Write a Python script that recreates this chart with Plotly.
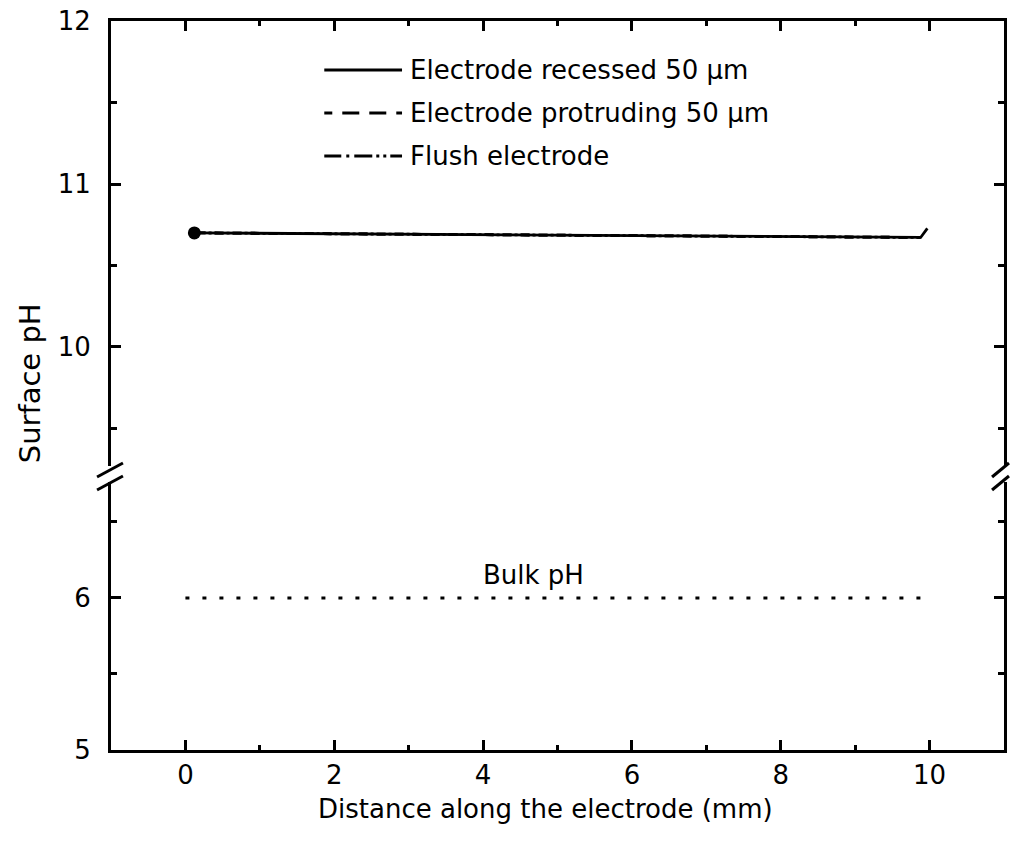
import plotly.graph_objects as go

# Surface pH along the electrode, three electrode geometries
distance_recessed = [0.15, 9.88, 9.97]
ph_recessed = [10.70, 10.672, 10.728]

distance_protruding = [0.15, 9.88]
ph_protruding = [10.70, 10.672]

distance_flush = [0.15, 9.88]
ph_flush = [10.70, 10.672]

start_point_x = [0.12]
start_point_ph = [10.70]

# Bulk solution pH
distance_bulk = [0.0, 10.0]
ph_bulk = [6.0, 6.0]

series_names = ["Electrode recessed 50 \u03bcm", "Electrode protruding 50 \u03bcm", "Flush electrode"]
bulk_label = "Bulk pH"
x_title = "Distance along the electrode (mm)"
y_title = "Surface pH"

FONT = "DejaVu Sans"
BLACK = "#000000"
LW = 2.8

L, R, T, B = 111, 3, 21, 94
W, H = 1010, 844
PW, PH = W - L - R, H - T - B


def px_x(p):
    return (p - L) / PW


def px_y(p):
    return (H - B - p) / PH


fig = go.Figure()

fig.add_trace(go.Scatter(x=distance_flush, y=ph_flush, mode="lines",
                         line=dict(color=BLACK, width=LW, dash="dashdot"),
                         xaxis="x2", yaxis="y2", showlegend=False))
fig.add_trace(go.Scatter(x=distance_protruding, y=ph_protruding, mode="lines",
                         line=dict(color=BLACK, width=LW, dash="dash"),
                         xaxis="x2", yaxis="y2", showlegend=False))
fig.add_trace(go.Scatter(x=distance_recessed, y=ph_recessed, mode="lines",
                         line=dict(color=BLACK, width=LW),
                         xaxis="x2", yaxis="y2", showlegend=False))
fig.add_trace(go.Scatter(x=start_point_x, y=start_point_ph, mode="markers",
                         marker=dict(color=BLACK, size=13),
                         xaxis="x2", yaxis="y2", showlegend=False))
fig.add_trace(go.Scatter(x=distance_bulk, y=ph_bulk, mode="lines",
                         line=dict(color=BLACK, width=LW, dash="4px,13px"),
                         xaxis="x", yaxis="y", showlegend=False))

tickfont = dict(family=FONT, size=26, color=BLACK)
common_axis = dict(showline=True, linecolor=BLACK, linewidth=3, showgrid=False,
                   zeroline=False, ticks="inside", ticklen=10, tickwidth=2.5,
                   tickcolor=BLACK, tickfont=tickfont)

fig.update_layout(
    width=W, height=H,
    margin=dict(l=L, r=R, t=T, b=B),
    paper_bgcolor="white", plot_bgcolor="white",
    xaxis=dict(range=[-1, 11], dtick=2, tick0=0, anchor="y", domain=[0, 1],
               mirror=False, ticklabelstandoff=0,
               minor=dict(dtick=1, tick0=0, ticks="inside", ticklen=5,
                          tickwidth=2.5, tickcolor=BLACK),
               **common_axis),
    xaxis2=dict(range=[-1, 11], dtick=2, tick0=0, anchor="y2", side="top",
                matches="x", showticklabels=False, mirror=False,
                minor=dict(dtick=1, tick0=0, ticks="inside", ticklen=5,
                           tickwidth=2.5, tickcolor=BLACK),
                **common_axis),
    yaxis=dict(range=[5, 6.763], dtick=1, tick0=5, domain=[0, 0.3676],
               anchor="x", mirror="ticks", ticklabelstandoff=12,
               minor=dict(dtick=0.5, tick0=5, ticks="inside", ticklen=6,
                          tickwidth=2.5, tickcolor=BLACK),
               **common_axis),
    yaxis2=dict(range=[9.27, 12], dtick=1, tick0=9, domain=[0.3896, 1],
                anchor="x2", mirror="ticks", ticklabelstandoff=12,
                minor=dict(dtick=0.5, tick0=9, ticks="inside", ticklen=6,
                           tickwidth=2.5, tickcolor=BLACK),
                **common_axis),
)

shapes = []
# Axis break marks on both vertical edges
for x0, x1 in [(97, 123), (995, 1012)]:
    for y0, y1 in [(477, 463), (490, 476)]:
        shapes.append(dict(type="line", xref="paper", yref="paper",
                           x0=px_x(x0), x1=px_x(x1), y0=px_y(y0), y1=px_y(y1),
                           line=dict(color=BLACK, width=3)))

# Legend keys
legend_rows = [70, 113, 156]
legend_dash = ["solid", "8px,10px,17px,10px,17px,10px", "17px,5px,3px,5px,18px,4px,3px,4px,3px,4px"]
legend_x0, legend_x1 = 325, 403
annotations = []
for name, row, dash in zip(series_names, legend_rows, legend_dash):
    shapes.append(dict(type="line", xref="paper", yref="paper",
                       x0=px_x(legend_x0), x1=px_x(legend_x1),
                       y0=px_y(row), y1=px_y(row),
                       line=dict(color=BLACK, width=LW, dash=dash)))
    annotations.append(dict(text=name, xref="paper", yref="paper",
                            x=px_x(409), y=px_y(row), xanchor="left", yanchor="middle",
                            showarrow=False, font=tickfont))

annotations.append(dict(text=bulk_label, xref="x", yref="y", x=4.68, y=6.15,
                        xanchor="center", yanchor="middle", showarrow=False,
                        font=tickfont))
annotations.append(dict(text=x_title, xref="paper", yref="paper",
                        x=px_x(547), y=px_y(809), xanchor="center", yanchor="middle",
                        showarrow=False, font=tickfont))
annotations.append(dict(text=y_title, xref="paper", yref="paper",
                        x=px_x(30), y=px_y(383), xanchor="center", yanchor="middle",
                        textangle=-90, showarrow=False,
                        font=dict(family=FONT, size=29, color=BLACK)))

fig.update_layout(shapes=shapes, annotations=annotations)

fig.write_html("out.html")
